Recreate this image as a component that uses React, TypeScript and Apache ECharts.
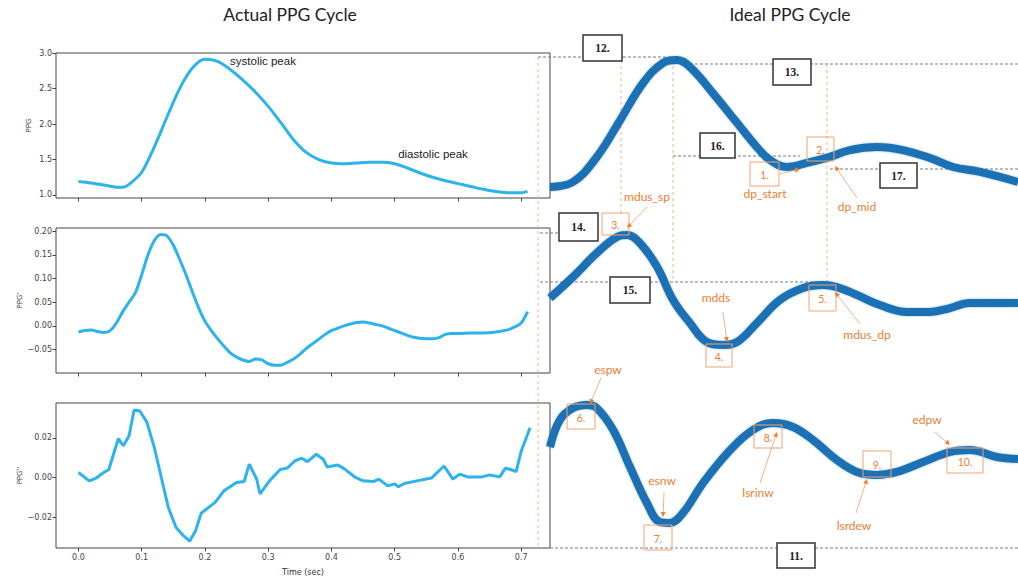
import React, { useEffect, useRef } from "react";
import * as echarts from "echarts";

// ---------- data: actual PPG cycle (left) ----------
const timeTicks = [0, 0.1, 0.2, 0.3, 0.4, 0.5, 0.6, 0.7];
const ppgTicks = [1.0, 1.5, 2.0, 2.5, 3.0];
const d1Ticks = [-0.05, 0, 0.05, 0.1, 0.15, 0.2];
const d2Ticks = [-0.02, 0, 0.02];

const ppgT = [0, 0.02, 0.04, 0.06, 0.07, 0.08, 0.1, 0.12, 0.14, 0.16, 0.18, 0.2, 0.22, 0.24, 0.26, 0.28, 0.3, 0.32, 0.34, 0.36, 0.38, 0.4, 0.42, 0.44, 0.46, 0.48, 0.5, 0.52, 0.54, 0.56, 0.58, 0.6, 0.62, 0.64, 0.66, 0.68, 0.7, 0.71];
const ppgV = [1.19, 1.17, 1.14, 1.11, 1.11, 1.15, 1.32, 1.68, 2.1, 2.5, 2.79, 2.915, 2.885, 2.77, 2.62, 2.45, 2.25, 2.02, 1.78, 1.6, 1.5, 1.45, 1.44, 1.45, 1.46, 1.46, 1.44, 1.38, 1.31, 1.25, 1.2, 1.16, 1.12, 1.08, 1.05, 1.03, 1.03, 1.05];

const d1T = [0, 0.01, 0.02, 0.03, 0.04, 0.05, 0.06, 0.07, 0.08, 0.09, 0.1, 0.11, 0.12, 0.13, 0.14, 0.15, 0.16, 0.17, 0.18, 0.19, 0.2, 0.21, 0.22, 0.23, 0.24, 0.25, 0.26, 0.27, 0.28, 0.29, 0.3, 0.31, 0.32, 0.33, 0.34, 0.35, 0.36, 0.37, 0.38, 0.39, 0.4, 0.41, 0.42, 0.43, 0.44, 0.45, 0.46, 0.47, 0.48, 0.49, 0.5, 0.51, 0.52, 0.53, 0.54, 0.55, 0.56, 0.57, 0.58, 0.59, 0.6, 0.62, 0.64, 0.66, 0.68, 0.69, 0.7, 0.71];
const d1V = [-0.013, -0.01, -0.009, -0.012, -0.014, -0.01, 0.006, 0.03, 0.05, 0.07, 0.108, 0.15, 0.18, 0.193, 0.19, 0.17, 0.14, 0.108, 0.072, 0.038, 0.01, -0.01, -0.027, -0.043, -0.057, -0.066, -0.072, -0.075, -0.07, -0.072, -0.08, -0.083, -0.083, -0.077, -0.07, -0.06, -0.048, -0.038, -0.028, -0.018, -0.01, -0.005, 0.0, 0.004, 0.007, 0.008, 0.006, 0.003, 0.0, -0.005, -0.01, -0.015, -0.02, -0.024, -0.026, -0.027, -0.027, -0.025, -0.018, -0.016, -0.016, -0.015, -0.015, -0.013, -0.008, -0.002, 0.006, 0.03];

const d2T = [0, 0.017, 0.028, 0.04, 0.048, 0.063, 0.071, 0.08, 0.088, 0.097, 0.108, 0.12, 0.131, 0.142, 0.154, 0.165, 0.176, 0.185, 0.194, 0.216, 0.23, 0.25, 0.262, 0.27, 0.282, 0.287, 0.302, 0.319, 0.33, 0.342, 0.353, 0.362, 0.376, 0.387, 0.393, 0.41, 0.421, 0.438, 0.45, 0.467, 0.475, 0.489, 0.5, 0.506, 0.515, 0.535, 0.558, 0.578, 0.592, 0.603, 0.615, 0.638, 0.65, 0.666, 0.675, 0.683, 0.692, 0.7, 0.714];
const d2V = [0.0025, -0.0017, -0.0003, 0.0025, 0.004, 0.0195, 0.016, 0.021, 0.034, 0.0335, 0.028, 0.015, 0.0, -0.015, -0.025, -0.029, -0.032, -0.027, -0.018, -0.0125, -0.0067, -0.0025, -0.002, 0.0067, -0.001, -0.0083, -0.0017, 0.004, 0.0047, 0.0083, 0.0097, 0.008, 0.0117, 0.0092, 0.0053, 0.0063, 0.0042, 0.0, -0.0017, -0.002, -0.0008, -0.0042, -0.0032, -0.0047, -0.003, -0.0017, -0.0003, 0.0058, -0.0008, 0.0017, 0.0003, 0.0003, 0.0013, 0.0003, 0.0047, 0.004, 0.003, 0.0133, 0.025];

// ---------- data: ideal PPG cycle (right), % of cycle vs normalised amplitude ----------
const ideal0X = [0, 4.9, 10, 15, 19.9, 24.1, 27.1, 29.9, 34.8, 40, 44.2, 47, 50.6, 54.9, 59.8, 64.1, 69.9, 75.4, 81.2, 86.1, 91.9, 100];
const ideal0V = [0.087, 0.12, 0.287, 0.533, 0.78, 0.913, 0.933, 0.887, 0.713, 0.513, 0.353, 0.267, 0.22, 0.247, 0.287, 0.333, 0.353, 0.333, 0.28, 0.22, 0.187, 0.12];
const ideal1X = [0, 4.9, 10, 14.3, 16.5, 19.2, 22.9, 26.3, 29.9, 33.5, 37, 40, 44.2, 49.1, 54.1, 58.3, 61.3, 65.6, 70.5, 76.3, 81.2, 85.5, 89.7, 100];
const ideal1V = [0.48, 0.62, 0.78, 0.887, 0.9, 0.847, 0.687, 0.467, 0.313, 0.187, 0.167, 0.187, 0.313, 0.467, 0.547, 0.567, 0.553, 0.5, 0.433, 0.387, 0.387, 0.413, 0.447, 0.447];
const ideal2X = [0, 2.1, 4.9, 7.9, 10, 13.5, 17.1, 20.7, 23.5, 25.6, 28.4, 32.7, 38.5, 43.4, 47.6, 51.9, 56.2, 61.3, 65.6, 69.9, 74.1, 79.7, 85.5, 89.7, 95.5, 100];
const ideal2V = [0.653, 0.833, 0.913, 0.933, 0.913, 0.767, 0.52, 0.28, 0.153, 0.147, 0.213, 0.413, 0.633, 0.767, 0.813, 0.787, 0.7, 0.567, 0.487, 0.467, 0.487, 0.553, 0.62, 0.633, 0.587, 0.573];

// ---------- annotations ----------
const blackBoxes: [string, number, number, number, number][] = [
  ["12.", 583, 35, 622, 61],
  ["13.", 773, 59, 811, 85],
  ["16.", 700, 133, 735, 158],
  ["17.", 880, 163, 917, 188],
  ["14.", 559, 213, 598, 241],
  ["15.", 610, 277, 650, 303],
  ["11.", 777, 543, 815, 568],
];
const orangeBoxes: [string, number, number, number, number][] = [
  ["1.", 750, 162, 779, 186],
  ["2.", 807, 137, 834, 161],
  ["3.", 602, 213, 629, 235],
  ["4.", 706, 344, 732, 367],
  ["5.", 809, 285, 836, 311],
  ["6.", 567, 404, 595, 429],
  ["7.", 644, 525, 672, 550],
  ["8.", 754, 425, 782, 448],
  ["9.", 863, 451, 891, 477],
  ["10.", 947, 448, 983, 473],
];
const orangeLabels: [string, number, number][] = [
  ["dp_start", 765, 193],
  ["dp_mid", 857, 206],
  ["mdus_sp", 647, 196],
  ["mdds", 716, 297],
  ["mdus_dp", 867, 334],
  ["espw", 608, 369],
  ["esnw", 662, 480],
  ["lsrinw", 758, 492],
  ["lsrdew", 854, 525],
  ["edpw", 927, 419],
];
const arrows: [number, number, number, number][] = [
  [780, 174, 800, 169],
  [857, 198, 835, 166],
  [647, 207, 627, 228],
  [723, 312, 727, 342],
  [860, 324, 835, 292],
  [601, 378, 590, 404],
  [664, 492, 663, 517],
  [760, 483, 777, 432],
  [856, 513, 867, 479],
  [935, 432, 950, 445],
];
const greyDashes: [number, number, number][] = [
  [57, 538, 672],
  [64, 680, 1018],
  [156, 673, 800],
  [169, 830, 1018],
  [233, 540, 600],
  [282, 540, 827],
  [548, 550, 1018],
];
const orangeDashes: [number, number, number][] = [
  [538, 57, 548],
  [621, 60, 213],
  [673, 60, 282],
  [827, 64, 285],
];

const BLUE_L = "#2cb3ec";
const BLUE_R = "#1f6fb4";
const ORANGE = "#ed7d31";
const ORANGE_LIGHT = "#f4b183";
const FRAME = "#444";

const zip = (a: number[], b: number[]) => a.map((v, i) => [v, b[i]]);
const fmt = (digits: number) => (v: number) => {
  const r = Math.abs(v) < 1e-9 ? 0 : v;
  return (r < 0 ? "\u2212" : "") + Math.abs(r).toFixed(digits);
};

function buildGraphic() {
  const g: any[] = [];
  g.push({ type: "text", x: 290, y: 14, z: 50, style: { text: "Actual PPG Cycle", fontFamily: "Lato", fontSize: 17.5, fill: "#222", align: "center", verticalAlign: "middle" } });
  g.push({ type: "text", x: 790, y: 14, z: 50, style: { text: "Ideal PPG Cycle", fontFamily: "Lato", fontSize: 17.5, fill: "#222", align: "center", verticalAlign: "middle" } });
  g.push({ type: "text", x: 263, y: 61, z: 50, style: { text: "systolic peak", fontFamily: "Liberation Sans", fontSize: 11.5, fill: "#222", align: "center", verticalAlign: "middle" } });
  g.push({ type: "text", x: 433, y: 154, z: 50, style: { text: "diastolic peak", fontFamily: "Liberation Sans", fontSize: 11.5, fill: "#222", align: "center", verticalAlign: "middle" } });

  greyDashes.forEach(([y, x1, x2]) =>
    g.push({ type: "line", z: 1, shape: { x1, y1: y, x2, y2: y }, style: { stroke: "#7a7a7a", lineWidth: 1, lineDash: [3, 2] } })
  );
  orangeDashes.forEach(([x, y1, y2]) =>
    g.push({ type: "line", z: 1, shape: { x1: x, y1, x2: x, y2 }, style: { stroke: ORANGE_LIGHT, lineWidth: 1, lineDash: [3, 3] } })
  );
  blackBoxes.forEach(([t, x1, y1, x2, y2]) => {
    g.push({ type: "rect", z: 60, shape: { x: x1, y: y1, width: x2 - x1, height: y2 - y1 }, style: { fill: "#fff", stroke: "#333", lineWidth: 1.5 } });
    g.push({ type: "text", z: 61, x: (x1 + x2) / 2, y: (y1 + y2) / 2, style: { text: t, fontFamily: "Liberation Serif", fontWeight: "bold", fontSize: 11.5, fill: "#222", align: "center", verticalAlign: "middle" } });
  });
  orangeBoxes.forEach(([t, x1, y1, x2, y2]) => {
    g.push({ type: "rect", z: 60, shape: { x: x1, y: y1, width: x2 - x1, height: y2 - y1 }, style: { fill: "transparent", stroke: "#f0a470", lineWidth: 1 } });
    g.push({ type: "text", z: 61, x: (x1 + x2) / 2, y: (y1 + y2) / 2 + 1, style: { text: t, fontFamily: "Lato", fontSize: 10.5, fill: ORANGE, align: "center", verticalAlign: "middle" } });
  });
  orangeLabels.forEach(([t, x, y]) =>
    g.push({ type: "text", z: 61, x, y, style: { text: t, fontFamily: "Lato", fontSize: 12, fill: ORANGE, align: "center", verticalAlign: "middle" } })
  );
  arrows.forEach(([x1, y1, x2, y2]) => {
    const dx = x2 - x1, dy = y2 - y1;
    const len = Math.hypot(dx, dy) || 1;
    const ux = dx / len, uy = dy / len;
    const bx = x2 - ux * 5, by = y2 - uy * 5;
    g.push({ type: "line", z: 62, shape: { x1, y1, x2: bx, y2: by }, style: { stroke: ORANGE_LIGHT, lineWidth: 1 } });
    g.push({ type: "polygon", z: 62, shape: { points: [[x2, y2], [bx - uy * 2.5, by + ux * 2.5], [bx + uy * 2.5, by - ux * 2.5]] }, style: { fill: ORANGE } });
  });
  return g;
}

export default function App() {
  const ref = useRef<HTMLDivElement>(null);
  useEffect(() => {
    document.body.style.margin = "0";
    if (!ref.current) return;
    const chart = echarts.init(ref.current, null, { renderer: "svg" });
    const leftGrid = (top: number) => ({ left: 56, top, width: 494, height: 145, show: true, borderColor: FRAME, borderWidth: 1, backgroundColor: "transparent" });
    const rightGrid = (top: number) => ({ left: 550, top, width: 468, height: 150, show: false });
    const labelStyle = { fontFamily: "DejaVu Sans", fontSize: 8, color: "#444" };
    const leftX = (i: number, showLabels: boolean) => ({
      type: "value", gridIndex: i, min: -0.0355, max: 0.7455, position: "bottom",
      axisLine: { show: false, onZero: false }, splitLine: { show: false },
      axisTick: { show: true, length: 3.5, customValues: timeTicks, lineStyle: { color: FRAME } },
      axisLabel: { show: showLabels, customValues: timeTicks, formatter: fmt(1), margin: 5, ...labelStyle },
      name: showLabels ? "Time (sec)" : "", nameLocation: "middle", nameGap: 20,
      nameTextStyle: { fontFamily: "DejaVu Sans", fontSize: 8, color: "#333" },
    });
    const leftY = (i: number, min: number, max: number, ticks: number[], digits: number, name: string) => ({
      type: "value", gridIndex: i, min, max, position: "left",
      axisLine: { show: false, onZero: false }, splitLine: { show: false },
      axisTick: { show: true, length: 3.5, customValues: ticks, lineStyle: { color: FRAME } },
      axisLabel: { customValues: ticks, formatter: fmt(digits), margin: 4, ...labelStyle },
      name, nameLocation: "middle", nameGap: digits === 1 ? 24 : 31, nameRotate: 90,
      nameTextStyle: { fontFamily: "DejaVu Sans", fontSize: 7, color: "#333" },
    });
    const hiddenX = (i: number) => ({ type: "value", gridIndex: i, min: 0, max: 100, show: false });
    const hiddenY = (i: number) => ({ type: "value", gridIndex: i, min: 0, max: 1, show: false });
    const leftLine = (i: number, data: number[][], smooth: boolean | number) => ({
      type: "line", xAxisIndex: i, yAxisIndex: i, data, showSymbol: false, smooth,
      lineStyle: { color: BLUE_L, width: 3 }, z: 3,
    });
    const rightLine = (i: number, data: number[][]) => ({
      type: "line", xAxisIndex: i, yAxisIndex: i, data, showSymbol: false, smooth: 0.4,
      lineStyle: { color: BLUE_R, width: 8, shadowColor: "rgba(31,111,180,0.45)", shadowBlur: 2 }, z: 3,
    });
    chart.setOption({
      animation: false,
      grid: [leftGrid(53), leftGrid(228), leftGrid(403), rightGrid(50), rightGrid(220), rightGrid(395)],
      xAxis: [leftX(0, false), leftX(1, false), leftX(2, true), hiddenX(3), hiddenX(4), hiddenX(5)],
      yAxis: [
        leftY(0, 0.957, 3.003, ppgTicks, 1, "PPG"),
        leftY(1, -0.0995, 0.2065, d1Ticks, 2, "PPG'"),
        leftY(2, -0.0355, 0.0375, d2Ticks, 2, "PPG''"),
        hiddenY(3), hiddenY(4), hiddenY(5),
      ],
      series: [
        leftLine(0, zip(ppgT, ppgV), 0.3),
        leftLine(1, zip(d1T, d1V), 0.3),
        leftLine(2, zip(d2T, d2V), false),
        rightLine(3, zip(ideal0X, ideal0V)),
        rightLine(4, zip(ideal1X, ideal1V)),
        rightLine(5, zip(ideal2X, ideal2V)),
      ],
      graphic: { elements: buildGraphic() },
    });
    return () => chart.dispose();
  }, []);
  return <div ref={ref} style={{ width: 1018, height: 581 }} />;
}
